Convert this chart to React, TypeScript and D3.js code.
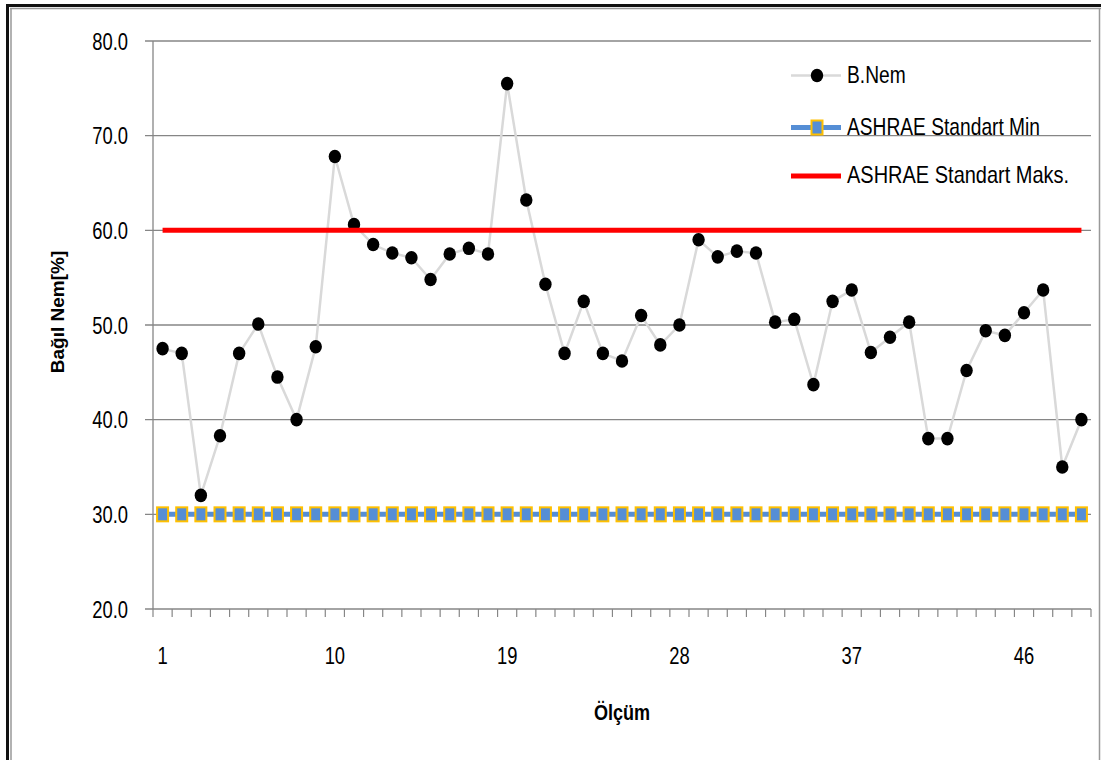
import React from "react";
import * as d3 from "d3";

const categories: number[] = [
  1, 2, 3, 4, 5, 6, 7, 8, 9, 10, 11, 12, 13, 14, 15, 16, 17, 18, 19, 20, 21, 22, 23, 24, 25,
  26, 27, 28, 29, 30, 31, 32, 33, 34, 35, 36, 37, 38, 39, 40, 41, 42, 43, 44, 45, 46, 47, 48, 49,
];

const bNem: number[] = [
  47.5, 47.0, 32.0, 38.3, 47.0, 50.1, 44.5, 40.0, 47.7, 67.8,
  60.6, 58.5, 57.6, 57.1, 54.8, 57.5, 58.1, 57.5, 75.5, 63.2,
  54.3, 47.0, 52.5, 47.0, 46.2, 51.0, 47.9, 50.0, 59.0, 57.2,
  57.8, 57.6, 50.3, 50.6, 43.7, 52.5, 53.7, 47.1, 48.7, 50.3,
  38.0, 38.0, 45.2, 49.4, 48.9, 51.3, 53.7, 35.0, 40.0,
];

const ashraeMin: number[] = [
  30, 30, 30, 30, 30, 30, 30, 30, 30, 30, 30, 30, 30, 30, 30, 30, 30, 30, 30, 30, 30, 30, 30, 30, 30,
  30, 30, 30, 30, 30, 30, 30, 30, 30, 30, 30, 30, 30, 30, 30, 30, 30, 30, 30, 30, 30, 30, 30, 30,
];

const ashraeMax: number[] = [
  60, 60, 60, 60, 60, 60, 60, 60, 60, 60, 60, 60, 60, 60, 60, 60, 60, 60, 60, 60, 60, 60, 60, 60, 60,
  60, 60, 60, 60, 60, 60, 60, 60, 60, 60, 60, 60, 60, 60, 60, 60, 60, 60, 60, 60, 60, 60, 60, 60,
];

const yTicks: number[] = [20, 30, 40, 50, 60, 70, 80];
const xTickLabels: number[] = [1, 10, 19, 28, 37, 46];

const seriesNames = ["B.Nem", "ASHRAE Standart Min", "ASHRAE Standart Maks."];
const xTitle = "Ölçüm";
const yTitle = "Bağıl Nem[%]";

const W = 1101;
const H = 760;
const plot = { left: 153, right: 1091, top: 41, bottom: 609 };
const FONT = "'Liberation Sans', Arial, sans-serif";

function StretchText(props: {
  x: number;
  y: number;
  anchor?: string;
  size: number;
  weight?: string;
  sx?: number;
  sy?: number;
  children: React.ReactNode;
}) {
  const { x, y, anchor = "start", size, weight = "normal", sx = 0.92, sy = 1.18, children } = props;
  return (
    <g transform={`translate(${x},${y}) scale(${sx},${sy})`}>
      <text
        x={0}
        y={0}
        textAnchor={anchor as any}
        fontFamily={FONT}
        fontSize={size}
        fontWeight={weight}
        fill="#000"
      >
        {children}
      </text>
    </g>
  );
}

export default function App() {
  const x = d3
    .scaleBand<number>()
    .domain(categories)
    .range([plot.left, plot.right])
    .padding(0);
  const bw = x.bandwidth();
  const cx = (c: number) => (x(c) as number) + bw / 2;
  const y = d3.scaleLinear().domain([20, 80]).range([plot.bottom, plot.top]);

  const line = d3
    .line<number>()
    .x((_, i) => cx(categories[i]))
    .y((v) => y(v));

  const tickBounds = categories.map((c) => x(c) as number).concat([plot.right]);

  return (
    <svg
      width={W}
      height={H}
      style={{ position: "absolute", left: 0, top: 0, background: "#fff" }}
      xmlns="http://www.w3.org/2000/svg"
    >
      <rect x={0} y={0} width={W} height={H} fill="#fff" />
      {/* outer frame */}
      <line x1={6} y1={5.5} x2={W} y2={5.5} stroke="#111" strokeWidth={3} />
      <line x1={7.5} y1={4} x2={7.5} y2={H} stroke="#111" strokeWidth={3} />
      <line x1={10} y1={8.5} x2={W} y2={8.5} stroke="#999" strokeWidth={1.5} />
      <line x1={11} y1={8} x2={11} y2={H} stroke="#999" strokeWidth={1.5} />
      <line x1={1099.5} y1={8} x2={1099.5} y2={H} stroke="#999" strokeWidth={1.5} />

      {/* gridlines + y ticks */}
      {yTicks.map((t) => (
        <g key={t}>
          <line
            x1={plot.left - 8}
            x2={plot.right}
            y1={y(t)}
            y2={y(t)}
            stroke="#868686"
            strokeWidth={1.3}
          />
          <StretchText x={128} y={y(t) + 8.5} anchor="end" size={20}>
            {t.toFixed(1)}
          </StretchText>
        </g>
      ))}
      {/* y axis */}
      <line x1={plot.left} x2={plot.left} y1={plot.top} y2={plot.bottom} stroke="#868686" strokeWidth={1.3} />
      {/* x ticks */}
      {tickBounds.map((tx, i) => (
        <line key={i} x1={tx} x2={tx} y1={plot.bottom} y2={plot.bottom + 8} stroke="#868686" strokeWidth={1.2} />
      ))}
      {xTickLabels.map((c) => (
        <StretchText key={c} x={cx(c)} y={663.5} anchor="middle" size={20}>
          {c}
        </StretchText>
      ))}

      {/* B.Nem series */}
      <path d={line(bNem) || ""} fill="none" stroke="#d9d9d9" strokeWidth={2.5} />
      {bNem.map((v, i) => (
        <ellipse key={i} cx={cx(categories[i])} cy={y(v)} rx={6.2} ry={6.8} fill="#000" />
      ))}

      {/* ASHRAE Min */}
      <path d={line(ashraeMin) || ""} fill="none" stroke="#558ed5" strokeWidth={5} />
      {ashraeMin.map((v, i) => (
        <rect
          key={i}
          x={cx(categories[i]) - 5.5}
          y={y(v) - 7}
          width={11}
          height={14}
          fill="#558ed5"
          stroke="#ffc000"
          strokeWidth={2}
        />
      ))}

      {/* ASHRAE Max */}
      <path d={line(ashraeMax) || ""} fill="none" stroke="#ff0000" strokeWidth={5} />

      {/* legend */}
      <g>
        <line x1={791} x2={841} y1={75.5} y2={75.5} stroke="#d9d9d9" strokeWidth={2.5} />
        <ellipse cx={817} cy={75.5} rx={6.2} ry={6.8} fill="#000" />
        <StretchText x={847} y={83} size={20} sx={0.96}>
          {seriesNames[0]}
        </StretchText>

        <line x1={791} x2={841} y1={127.5} y2={127.5} stroke="#558ed5" strokeWidth={5} />
        <rect x={811.5} y={120.5} width={11} height={14} fill="#558ed5" stroke="#ffc000" strokeWidth={2} />
        <StretchText x={847} y={135} size={20} sx={0.96}>
          {seriesNames[1]}
        </StretchText>

        <line x1={791} x2={841} y1={176} y2={176} stroke="#ff0000" strokeWidth={5} />
        <StretchText x={847} y={183} size={20} sx={1.0}>
          {seriesNames[2]}
        </StretchText>
      </g>

      {/* axis titles */}
      <StretchText x={622} y={720} anchor="middle" size={19} weight="bold" sx={0.95} sy={1.2}>
        {xTitle}
      </StretchText>
      <g transform={`translate(64,312) rotate(-90)`}>
        <text
          x={0}
          y={0}
          textAnchor="middle"
          fontFamily={FONT}
          fontWeight="bold"
          fontSize={19}
          fill="#000"
        >
          {yTitle}
        </text>
      </g>
    </svg>
  );
}
